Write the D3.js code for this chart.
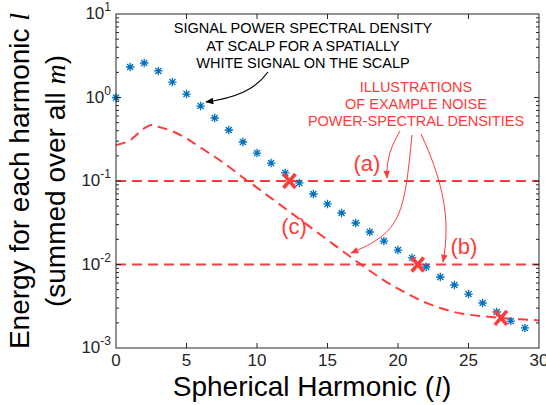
<!DOCTYPE html>
<html>
<head>
<meta charset="utf-8">
<script src="https://cdn.jsdelivr.net/npm/d3@7"></script>
<style>
  body { margin: 0; background: white; }
  text { font-family: "Liberation Sans", Arial, Helvetica, sans-serif; }
</style>
</head>
<body>
<div id="container"></div>
<script>
let w = 546;
let h = 405;

// DATA
// harmonic index l for the blue asterisks
let harmonics = [0, 1, 2, 3, 4, 5, 6, 7, 8, 9, 10, 11, 12, 13, 14, 15, 16, 17, 18, 19,
                 20, 21, 22, 23, 24, 25, 26, 27, 28, 29];
let signalPower = [1.0, 2.32, 2.59, 2.08, 1.53, 1.10, 0.79, 0.568, 0.408, 0.293,
                   0.216, 0.164, 0.125, 0.0947, 0.0699, 0.0531, 0.0414, 0.0314, 0.0245, 0.0191,
                   0.0149, 0.0120, 0.00933, 0.00708, 0.00568, 0.00443, 0.00346, 0.0027, 0.0021, 0.00174];

// noise (c) curve
let noiseCL = [0, 1, 2, 2.5, 3, 4, 5, 6, 7, 8, 9, 10, 11, 12, 13, 14, 15, 16, 17, 18, 19,
               20, 21, 22, 23, 24, 25, 26, 27, 28, 29, 30];
let noiseC = [0.269, 0.309, 0.427, 0.468, 0.447, 0.394, 0.324, 0.251, 0.195, 0.148, 0.110,
              0.0832, 0.0624, 0.0468, 0.0351, 0.0263, 0.0197, 0.0148, 0.0111, 0.00841, 0.00646,
              0.00513, 0.00417, 0.00347, 0.00302, 0.00269, 0.00251, 0.0024, 0.00232, 0.00224, 0.00219, 0.00214];

// flat noise levels (a) and (b)
let noiseLevels = [0.1, 0.01];

// red crosses where signal meets noise
let crossL = [12.3, 21.4, 27.3];
let crossV = [0.1, 0.01, 0.0023];

let xTicks = [0, 5, 10, 15, 20, 25, 30];
let yTicks = [1e-3, 1e-2, 1e-1, 1e0, 1e1];
let yExp = ["-3", "-2", "-1", "0", "1"];

let blue = "#0072bd";
let red = "#ff3a3a";
let axisColor = "#262626";

// SVG
let viz = d3.select("#container").append("svg")
    .attr("width", w)
    .attr("height", h)
    .style("background-color", "white");

let padL = 116, padR = 539, padT = 14, padB = 348;

let xScale = d3.scaleLinear().domain([0, 30]).range([padL, padR]);
let yScale = d3.scaleLog().domain([1e-3, 1e1]).range([padB, padT]);

// arrow heads
let defs = viz.append("defs");
function arrowHead(id, color) {
  defs.append("marker")
    .attr("id", id)
    .attr("viewBox", "0 -5 10 10")
    .attr("refX", 9)
    .attr("refY", 0)
    .attr("markerWidth", 10)
    .attr("markerHeight", 8)
    .attr("markerUnits", "userSpaceOnUse")
    .attr("orient", "auto")
    .append("path")
      .attr("d", "M0,-4L10,0L0,4Z")
      .attr("fill", color);
}
arrowHead("arrBlack", "black");
arrowHead("arrRed", red);

// NOISE LINES (a), (b)
viz.selectAll(".level").data(noiseLevels).enter()
  .append("line")
    .attr("class", "level")
    .attr("x1", xScale(0))
    .attr("x2", xScale(30))
    .attr("y1", d => yScale(d))
    .attr("y2", d => yScale(d))
    .attr("stroke", red)
    .attr("stroke-width", 2)
    .attr("stroke-dasharray", "10,6");

// NOISE CURVE (c)
let lineMaker = d3.line()
    .x((d, i) => xScale(noiseCL[i]))
    .y(d => yScale(d))
    .curve(d3.curveMonotoneX);

viz.append("path")
  .datum(noiseC)
  .attr("d", lineMaker)
  .attr("fill", "none")
  .attr("stroke", red)
  .attr("stroke-width", 2)
  .attr("stroke-dasharray", "10,6");

// SIGNAL asterisks
let r = 4.2, dd = r * 0.72;
let star = "M" + (-r) + ",0L" + r + ",0M0," + (-r) + "L0," + r +
           "M" + (-dd) + "," + (-dd) + "L" + dd + "," + dd +
           "M" + (-dd) + "," + dd + "L" + dd + "," + (-dd);

viz.selectAll(".sig").data(signalPower).enter()
  .append("path")
    .attr("class", "sig")
    .attr("d", star)
    .attr("transform", (d, i) => "translate(" + xScale(harmonics[i]) + "," + yScale(d) + ")")
    .attr("stroke", blue)
    .attr("stroke-width", 1.3)
    .attr("fill", "none");

// CROSSES
let cx = 6, cy = 7;
viz.selectAll(".cross").data(crossV).enter()
  .append("path")
    .attr("class", "cross")
    .attr("d", "M" + (-cx) + "," + (-cy) + "L" + cx + "," + cy + "M" + (-cx) + "," + cy + "L" + cx + "," + (-cy))
    .attr("transform", (d, i) => "translate(" + xScale(crossL[i]) + "," + yScale(d) + ")")
    .attr("stroke", red)
    .attr("stroke-width", 3.5)
    .attr("fill", "none");

// AXES BOX
viz.append("rect")
  .attr("x", padL).attr("y", padT)
  .attr("width", padR - padL).attr("height", padB - padT)
  .attr("fill", "none")
  .attr("stroke", axisColor)
  .attr("stroke-width", 1);

// x ticks bottom and top
viz.selectAll(".xt").data(xTicks.slice(1, -1)).enter()
  .append("path")
    .attr("d", d => "M" + xScale(d) + "," + padB + "v-5M" + xScale(d) + "," + padT + "v5")
    .attr("stroke", axisColor);

viz.selectAll(".xl").data(xTicks).enter()
  .append("text")
    .attr("x", d => xScale(d))
    .attr("y", 366)
    .attr("text-anchor", "middle")
    .attr("font-size", 17)
    .attr("fill", axisColor)
    .text(d => d);

// y ticks (major + minor) left and right
let minor = [];
for (let e = -3; e < 1; e++) {
  for (let k = 2; k <= 9; k++) minor.push(k * Math.pow(10, e));
}
viz.selectAll(".ym").data(minor).enter()
  .append("path")
    .attr("d", d => "M" + padL + "," + yScale(d) + "h3M" + padR + "," + yScale(d) + "h-3")
    .attr("stroke", axisColor);
viz.selectAll(".yM").data(yTicks.slice(1, -1)).enter()
  .append("path")
    .attr("d", d => "M" + padL + "," + yScale(d) + "h5M" + padR + "," + yScale(d) + "h-5")
    .attr("stroke", axisColor);

let yl = viz.selectAll(".yl").data(yTicks).enter()
  .append("text")
    .attr("x", 111)
    .attr("y", d => yScale(d) + 5)
    .attr("text-anchor", "end")
    .attr("font-size", 17)
    .attr("fill", axisColor);
yl.append("tspan").text("10");
yl.append("tspan")
  .attr("dy", -8)
  .attr("font-size", 12)
  .text((d, i) => yExp[i]);

// AXIS LABELS
let xlab = viz.append("text")
  .attr("x", 312)
  .attr("y", 396)
  .attr("text-anchor", "middle")
  .attr("font-size", 28)
  .attr("fill", "black");
xlab.append("tspan").text("Spherical Harmonic (");
xlab.append("tspan").attr("font-family", "Liberation Serif").attr("font-style", "italic").text("l");
xlab.append("tspan").text(")");

let ylab1 = viz.append("text")
  .attr("transform", "translate(29,181) rotate(-90)")
  .attr("text-anchor", "middle")
  .attr("font-size", 28)
  .attr("fill", "black");
ylab1.append("tspan").text("Energy for each harmonic ");
ylab1.append("tspan").attr("font-family", "Liberation Serif").attr("font-style", "italic").text("l");

let ylab2 = viz.append("text")
  .attr("transform", "translate(65,181) rotate(-90)")
  .attr("text-anchor", "middle")
  .attr("font-size", 28)
  .attr("fill", "black");
ylab2.append("tspan").text("(summed over all ");
ylab2.append("tspan").attr("font-family", "Liberation Serif").attr("font-style", "italic").text("m");
ylab2.append("tspan").text(")");

// ANNOTATIONS
let sigNote = ["SIGNAL POWER SPECTRAL DENSITY", "AT SCALP FOR A SPATIALLY", "WHITE SIGNAL ON THE SCALP"];
viz.selectAll(".sn").data(sigNote).enter()
  .append("text")
    .attr("x", 303)
    .attr("y", (d, i) => 33 + i * 17.5)
    .attr("text-anchor", "middle")
    .attr("font-size", 14.5)
    .attr("fill", "black")
    .text(d => d);

let noiseNote = ["ILLUSTRATIONS", "OF EXAMPLE NOISE", "POWER-SPECTRAL DENSITIES"];
viz.selectAll(".nn").data(noiseNote).enter()
  .append("text")
    .attr("x", 416)
    .attr("y", (d, i) => 92 + i * 17)
    .attr("text-anchor", "middle")
    .attr("font-size", 14.5)
    .attr("fill", red)
    .text(d => d);

let tags = [["(a)", 367, 171], ["(b)", 464, 254], ["(c)", 294, 234]];
viz.selectAll(".tag").data(tags).enter()
  .append("text")
    .attr("x", d => d[1])
    .attr("y", d => d[2])
    .attr("text-anchor", "middle")
    .attr("font-size", 22)
    .attr("fill", red)
    .text(d => d[0]);

viz.append("path")
  .attr("d", "M268,72C255,90 235,98 206,102")
  .attr("fill", "none")
  .attr("stroke", "black")
  .attr("stroke-width", 1.2)
  .attr("marker-end", "url(#arrBlack)");

let redArrows = [
  "M400,131C392,145 386,158 387,178",
  "M412,135C404,215 402,232 351,253",
  "M421,134C440,175 452,215 443,262"
];
viz.selectAll(".ra").data(redArrows).enter()
  .append("path")
    .attr("d", d => d)
    .attr("fill", "none")
    .attr("stroke", red)
    .attr("stroke-width", 1)
    .attr("marker-end", "url(#arrRed)");
</script>
</body>
</html>
